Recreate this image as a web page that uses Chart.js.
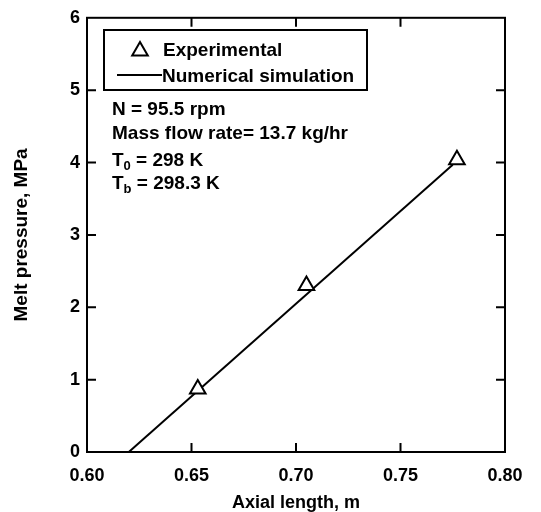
<!DOCTYPE html>
<html>
<head>
<meta charset="utf-8">
<script src="https://cdn.jsdelivr.net/npm/chart.js@4.4.1/dist/chart.umd.min.js"></script>
<style>
  html, body { margin: 0; padding: 0; background: #fff; }
  #chart { display: block; }
</style>
</head>
<body>
<canvas id="chart" width="541" height="512"></canvas>
<script>
// measured points (triangles)
var expX = [0.653, 0.705, 0.777];
var expY = [0.87, 2.30, 4.04];
// simulation line
var simX = [0.62, 0.775];
var simY = [0.0, 3.97];

var xTicks = [0.60, 0.65, 0.70, 0.75, 0.80];
var yTicks = [0, 1, 2, 3, 4, 5, 6];

var legendLabels = ['Experimental', 'Numerical simulation'];
var noteLines = ['N = 95.5 rpm', 'Mass flow rate= 13.7 kg/hr'];
var tempNotes = [['T', '0', ' = 298 K'], ['T', 'b', ' = 298.3 K']];

var FONT = '"Liberation Sans", Arial, Helvetica, sans-serif';

function toPoints(xs, ys) {
    var pts = [];
    for (var i = 0; i < xs.length; i++) {
        pts.push({ x: xs[i], y: ys[i] });
    }
    return pts;
}

// frame, inward ticks on all four sides, legend box and notes
var framePlugin = {
    id: 'frame',
    afterDraw: function(chart) {
        var ctx = chart.ctx;
        var a = chart.chartArea;
        var xs = chart.scales.x;
        var ys = chart.scales.y;
        var tl = 9;
        ctx.save();
        ctx.strokeStyle = '#000';
        ctx.lineWidth = 2;
        ctx.strokeRect(a.left, a.top, a.right - a.left, a.bottom - a.top);

        ctx.beginPath();
        for (var i = 1; i < xTicks.length - 1; i++) {
            var px = xs.getPixelForValue(xTicks[i]);
            ctx.moveTo(px, a.bottom);
            ctx.lineTo(px, a.bottom - tl);
            ctx.moveTo(px, a.top);
            ctx.lineTo(px, a.top + tl);
        }
        for (var j = 1; j < yTicks.length - 1; j++) {
            var py = ys.getPixelForValue(yTicks[j]);
            ctx.moveTo(a.left, py);
            ctx.lineTo(a.left + tl, py);
            ctx.moveTo(a.right, py);
            ctx.lineTo(a.right - tl, py);
        }
        ctx.stroke();

        // legend box
        ctx.lineWidth = 2;
        ctx.strokeRect(104, 30, 263, 60);
        ctx.fillStyle = '#000';
        ctx.font = 'bold 19px ' + FONT;
        ctx.textBaseline = 'alphabetic';
        ctx.textAlign = 'left';

        // triangle symbol
        var tx = 140, ty = 51, r = 9;
        ctx.beginPath();
        ctx.moveTo(tx, ty - r);
        ctx.lineTo(tx + r * 0.866, ty + r * 0.5);
        ctx.lineTo(tx - r * 0.866, ty + r * 0.5);
        ctx.closePath();
        ctx.fillStyle = '#fff';
        ctx.fill();
        ctx.stroke();
        ctx.fillStyle = '#000';
        ctx.fillText(legendLabels[0], 163, 56);

        ctx.beginPath();
        ctx.moveTo(117, 75);
        ctx.lineTo(162, 75);
        ctx.stroke();
        ctx.fillText(legendLabels[1], 162, 82);

        // notes
        ctx.fillText(noteLines[0], 112, 115);
        ctx.fillText(noteLines[1], 112, 139);
        var base = [166, 189];
        for (var k = 0; k < tempNotes.length; k++) {
            var x = 112;
            ctx.font = 'bold 19px ' + FONT;
            ctx.fillText(tempNotes[k][0], x, base[k]);
            x += ctx.measureText(tempNotes[k][0]).width;
            ctx.font = 'bold 13px ' + FONT;
            ctx.fillText(tempNotes[k][1], x, base[k] + 4);
            x += ctx.measureText(tempNotes[k][1]).width;
            ctx.font = 'bold 19px ' + FONT;
            ctx.fillText(tempNotes[k][2], x, base[k]);
        }
        ctx.restore();
    }
};

var ctx = document.getElementById('chart').getContext('2d');
var chart = new Chart(ctx, {
    type: 'scatter',
    data: {
        datasets: [{
            label: legendLabels[1],
            data: toPoints(simX, simY),
            showLine: true,
            borderColor: '#000',
            borderWidth: 2,
            pointRadius: 0,
            fill: false,
            order: 2
        }, {
            label: legendLabels[0],
            data: toPoints(expX, expY),
            showLine: false,
            pointStyle: 'triangle',
            pointRadius: 9,
            pointBorderWidth: 2,
            pointBackgroundColor: '#fff',
            pointBorderColor: '#000',
            order: 1
        }]
    },
    options: {
        responsive: false,
        animation: false,
        devicePixelRatio: 1,
        layout: { padding: { top: 17, right: 36, left: 0, bottom: 0 } },
        plugins: {
            legend: { display: false },
            tooltip: { enabled: false }
        },
        scales: {
            x: {
                type: 'linear',
                min: 0.6,
                max: 0.8,
                afterFit: function(s) { s.height = 60; },
                afterBuildTicks: function(s) {
                    s.ticks = xTicks.map(function(v) { return { value: v }; });
                },
                grid: { display: false, drawTicks: false },
                border: { display: true, color: '#000', width: 2 },
                ticks: {
                    color: '#000',
                    padding: 13,
                    maxRotation: 0,
                    font: { family: FONT, size: 18, weight: 'bold' },
                    callback: function(v) { return v.toFixed(2); }
                },
                title: {
                    display: true,
                    text: 'Axial length, m',
                    color: '#000',
                    padding: { top: 0, bottom: -2 },
                    font: { family: FONT, size: 18, weight: 'bold' }
                }
            },
            y: {
                type: 'linear',
                min: 0,
                max: 6,
                afterFit: function(s) { s.width = 87; },
                afterBuildTicks: function(s) {
                    s.ticks = yTicks.map(function(v) { return { value: v }; });
                },
                grid: { display: false, drawTicks: false },
                border: { display: true, color: '#000', width: 2 },
                ticks: {
                    color: '#000',
                    padding: 7,
                    font: { family: FONT, size: 18, weight: 'bold' },
                    callback: function(v) { return String(v); }
                },
                title: {
                    display: true,
                    text: 'Melt pressure, MPa',
                    color: '#000',
                    padding: { top: 10, bottom: 0 },
                    font: { family: FONT, size: 19, weight: 'bold' }
                }
            }
        }
    },
    plugins: [framePlugin]
});
</script>
</body>
</html>
